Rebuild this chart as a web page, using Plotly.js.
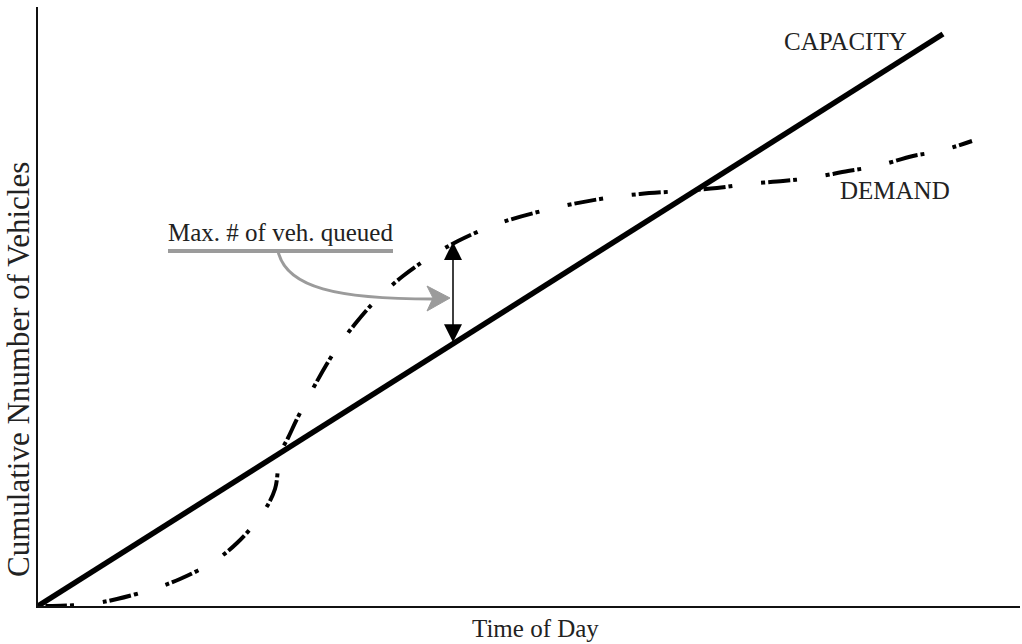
<!DOCTYPE html>
<html>
<head>
<meta charset="utf-8">
<script src="https://cdn.plot.ly/plotly-3.0.1.min.js"></script>
<style>html,body{margin:0;padding:0;background:#fff;}#chart{width:1022px;height:644px;}</style>
</head>
<body>
<div id="chart"></div>
<script>
// Time of day (arbitrary units) and cumulative vehicles (arbitrary units)
const capacityTime = [0, 905];
const capacityCount = [0, 572];

const demandTime = [0, 12, 52, 79, 115, 142, 175, 199, 224, 237, 242, 250, 262, 295, 317, 339, 365, 389, 420, 462, 512, 562, 602, 642, 679, 709, 745, 772, 810, 839, 875, 902, 934];
const demandCount = [0, 0, 2, 7, 17, 27, 44, 63, 92, 117, 152, 168, 193, 252, 282, 307, 330, 347, 365, 383, 397, 407, 412, 415, 418, 422, 425, 428, 435, 440, 450, 455, 465];

const queueTime = 415; // time of maximum queue

function interp(xs, ys, x) {
  for (let i = 0; i < xs.length - 1; i++) {
    if (x >= xs[i] && x <= xs[i + 1]) {
      const t = (x - xs[i]) / (xs[i + 1] - xs[i]);
      return ys[i] + t * (ys[i + 1] - ys[i]);
    }
  }
  return ys[ys.length - 1];
}
const capAtQ = interp(capacityTime, capacityCount, queueTime);
const demAtQ = interp(demandTime, demandCount, queueTime) + 2;

const family = '"Liberation Serif", "Times New Roman", serif';
const font = {family: family, size: 25, color: '#222'};

const traces = [
  {x: capacityTime, y: capacityCount, mode: 'lines', line: {color: '#000', width: 5.5}, hoverinfo: 'skip', showlegend: false, cliponaxis: false},
  {x: demandTime, y: demandCount, mode: 'lines', line: {color: '#000', width: 4, shape: 'spline', smoothing: 1, dash: '4px,3px,22px,3px,4px,29px'}, hoverinfo: 'skip', showlegend: false, cliponaxis: false}
];

const layout = {
  width: 1022, height: 644,
  margin: {l: 38, r: 2, t: 7, b: 38, pad: 0},
  paper_bgcolor: '#fff', plot_bgcolor: '#fff',
  showlegend: false,
  xaxis: {range: [0, 982], showgrid: false, zeroline: false, showticklabels: false, ticks: '', showline: true, linecolor: '#111', linewidth: 2, fixedrange: true},
  yaxis: {range: [0, 599], showgrid: false, zeroline: false, showticklabels: false, ticks: '', showline: true, linecolor: '#111', linewidth: 2, fixedrange: true},
  shapes: [
    {type: 'line', xref: 'x', yref: 'y', x0: 130, y0: 355, x1: 355, y1: 355, line: {color: '#9b9b9b', width: 4}},
    {type: 'path', xref: 'x', yref: 'y', path: 'M 240 355 C 248 318, 300 307, 395 307', line: {color: '#9b9b9b', width: 3}},
    {type: 'path', xref: 'x', yref: 'y', path: 'M 412 308 L 389 320 L 395 308 L 389 295 Z', fillcolor: '#9b9b9b', line: {color: '#9b9b9b', width: 1}}
  ],
  annotations: [
    {x: queueTime, y: demAtQ, ax: queueTime, ay: capAtQ, xref: 'x', yref: 'y', axref: 'x', ayref: 'y', text: '', showarrow: true, arrowhead: 2, arrowside: 'end+start', arrowsize: 2.4, arrowwidth: 1.5, arrowcolor: '#000', standoff: 0, startstandoff: 0},
    {x: 807, y: 565, xref: 'x', yref: 'y', text: 'CAPACITY', showarrow: false, font: font},
    {x: 857, y: 416, xref: 'x', yref: 'y', text: 'DEMAND', showarrow: false, font: font},
    {x: 242, y: 374, xref: 'x', yref: 'y', text: 'Max. # of veh. queued', showarrow: false, font: font},
    {x: 497, y: -0.038, xref: 'x', yref: 'paper', xanchor: 'center', yanchor: 'middle', text: 'Time of Day', showarrow: false, font: font},
    {x: -0.0204, y: 237, xref: 'paper', yref: 'y', xanchor: 'center', yanchor: 'middle', text: 'Cumulative Nnumber of Vehicles', textangle: -90, showarrow: false, font: {family: family, size: 31, color: '#222'}}
  ]
};

Plotly.newPlot('chart', traces, layout, {displayModeBar: false, staticPlot: true});
</script>
</body>
</html>
